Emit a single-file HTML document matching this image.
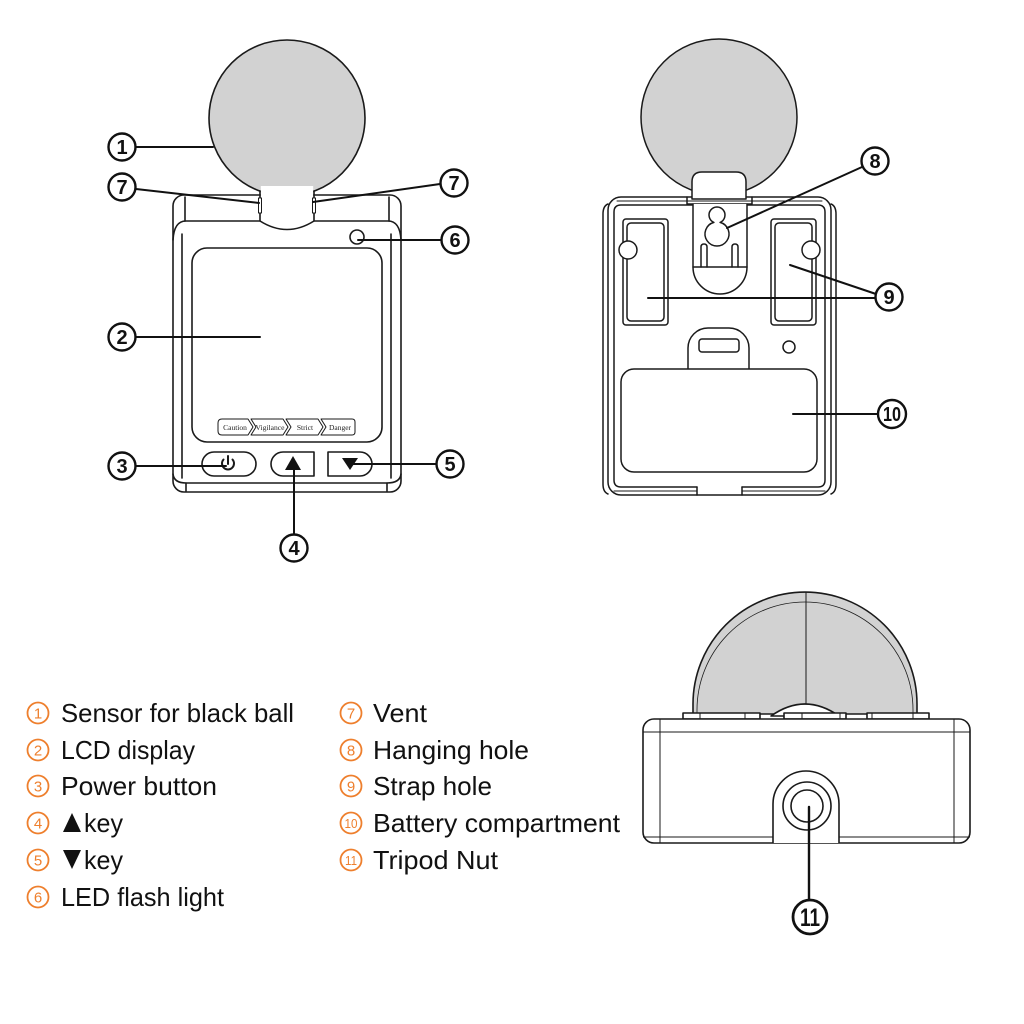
<!DOCTYPE html>
<html><head><meta charset="utf-8"><style>
html,body{margin:0;padding:0;background:#fff;}
svg{display:block}
</style></head><body>
<svg width="1024" height="1024" viewBox="0 0 1024 1024" xmlns="http://www.w3.org/2000/svg">
<rect width="1024" height="1024" fill="#fff"/>

<!-- ================= FRONT DEVICE ================= -->
<g fill="none" stroke="#1a1a1a" stroke-width="1.6" stroke-linejoin="round" stroke-linecap="round">
  <rect x="173" y="195" width="228" height="297" rx="11" fill="#fff"/>
  <circle cx="287" cy="118" r="78" fill="#d2d2d2"/>
  <rect x="260.8" y="186" width="52.4" height="35" fill="#fff" stroke="none"/>
  <path d="M260,191 L260,221 Q287,238 314,221 L314,191"/>
  <!-- vents -->
  <rect x="258.5" y="198" width="3" height="15" fill="#fff" stroke-width="1"/>
  <rect x="312.5" y="198" width="3" height="15" fill="#fff" stroke-width="1"/>
  <!-- ledge -->
  <path d="M173,240 Q174,221 186,221 L260,221"/>
  <path d="M314,221 L388,221 Q400,221 401,240"/>
  <path d="M185,197 L185,221 M389,197 L389,221"/>
  <path d="M182,234 L182,478 M391,234 L391,478"/>
  <path d="M173,474 Q174,483 186,483 L387,483 Q400,483 401,474"/>
  <path d="M186,483 L186,491 M387,483 L387,491"/>
  <!-- LCD -->
  <rect x="192" y="248" width="190" height="194" rx="15" fill="#fff"/>
  <!-- chevrons -->
  <g stroke-width="1">
    <path d="M222,419 L248,419 L253,427 L248,435 L222,435 Q218,435 218,431 L218,423 Q218,419 222,419 Z"/>
    <path d="M251,419 L283,419 L288,427 L283,435 L251,435 L256,427 Z"/>
    <path d="M286,419 L318,419 L323,427 L318,435 L286,435 L291,427 Z"/>
    <path d="M321,419 L352,419 Q355,419 355,422 L355,432 Q355,435 352,435 L321,435 L326,427 Z"/>
  </g>
  <!-- LED -->
  <circle cx="357" cy="237" r="7" fill="#fff"/>
  <!-- buttons -->
  <rect x="202" y="452" width="54" height="24" rx="12" fill="#fff"/>
  <path d="M283,452 L314,452 L314,476 L283,476 A12,12 0 0 1 283,452 Z" fill="#fff"/>
  <path d="M328,452 L360,452 A12,12 0 0 1 360,476 L328,476 Z" fill="#fff"/>
  <!-- power icon -->
  <path d="M223.5,459.5 A6,6 0 1 0 232.5,459.5" stroke-width="2"/>
  <path d="M228,456 L228,464" stroke-width="2"/>
</g>
<g font-family="'Liberation Serif', serif" font-size="7.5" fill="#222" text-anchor="middle">
  <text x="235" y="430">Caution</text>
  <text x="270" y="430" textLength="29" lengthAdjust="spacingAndGlyphs">Vigilance</text>
  <text x="305" y="430">Strict</text>
  <text x="340" y="430">Danger</text>
</g>
<polygon points="293,456 285,470 301,470" fill="#111"/>
<polygon points="342,458 358,458 350,470" fill="#111"/>

<!-- ================= BACK DEVICE ================= -->
<g fill="none" stroke="#1a1a1a" stroke-width="1.5" stroke-linejoin="round" stroke-linecap="round">
  <path d="M603,214 Q603,206 608,204 M603,214 L603,484 Q603,492 608,494"/>
  <path d="M836,214 Q836,206 831,204 M836,214 L836,484 Q836,492 831,494"/>
  <rect x="608" y="197" width="223" height="298" rx="13" fill="#fff"/>
  <path d="M617,201 L822,201" stroke-width="1"/>
  <path d="M697,487 L621,487 Q614,487 614,480 L614,212 Q614,205 621,205 L818,205 Q825,205 825,212 L825,480 Q825,487 818,487 L742,487"/>
  <path d="M697,487 L697,495 M742,487 L742,495"/>
  <path d="M614,491 L697,491 M742,491 L825,491" stroke-width="1"/>
  <circle cx="719" cy="117" r="78" fill="#d2d2d2"/>
  <path d="M692,199 L692,182 Q692,172 702,172 L736,172 Q746,172 746,182 L746,199 Z" fill="#fff"/>
  <path d="M687,197 L687,204 L752,204 L752,197"/>
  <path d="M693,204 L693,267 A27,27 0 0 0 747,267 L747,204" fill="#fff"/>
  <path d="M693,267 L747,267"/>
  <path d="M701,267 L701,247 Q701,244 704,244 Q707,244 707,247 L707,267"/>
  <path d="M732,267 L732,247 Q732,244 735,244 Q738,244 738,247 L738,267"/>
  <!-- keyhole -->
  <path d="M713.9,222.4 A8,8 0 1 1 720.1,222.4 A12,12 0 1 1 713.9,222.4 Z" fill="#fff"/>
  <!-- strap holes -->
  <rect x="623" y="219" width="45" height="106" rx="3" fill="#fff"/>
  <rect x="627" y="223" width="37" height="98" rx="4"/>
  <circle cx="628" cy="250" r="9" fill="#fff"/>
  <rect x="771" y="219" width="45" height="106" rx="3" fill="#fff"/>
  <rect x="775" y="223" width="37" height="98" rx="4"/>
  <circle cx="811" cy="250" r="9" fill="#fff"/>
  <!-- battery -->
  <path d="M688,370 L688,348 A20,20 0 0 1 708,328 L729,328 A20,20 0 0 1 749,348 L749,370" fill="#fff"/>
  <rect x="699" y="339" width="40" height="13" rx="3"/>
  <circle cx="789" cy="347" r="6"/>
  <rect x="621" y="369" width="196" height="103" rx="13" fill="#fff"/>
</g>

<!-- ================= SIDE VIEW ================= -->
<g fill="none" stroke="#1a1a1a" stroke-width="1.6" stroke-linejoin="round">
  <path d="M693,714 L693,704 A112,112 0 0 1 917,704 L917,714 Z" fill="#d2d2d2"/>
  <path d="M697,714 L697,710 A108,108 0 0 1 913,710 L913,714" stroke-width="0.8"/>
  <path d="M806,592 L806,706" stroke-width="1"/>
  <path d="M771,716 Q805,692 839,716 Z" fill="#fff"/>
  <rect x="683" y="713" width="77" height="6" fill="#fff"/>
  <rect x="784" y="713" width="62" height="6" fill="#fff"/>
  <rect x="867" y="713" width="62" height="6" fill="#fff"/>
  <path d="M700,713 L700,719 M745,713 L745,719 M802,713 L802,719 M840,713 L840,719 M872,713 L872,719 M913,713 L913,719" stroke-width="1"/>
  <rect x="643" y="719" width="327" height="124" rx="11" fill="#fff"/>
  <path d="M643,732 L970,732 M643,837 L970,837 M660,719 L660,843 M954,719 L954,843" stroke-width="1"/>
  <path d="M773,843 L773,804 A33,33 0 0 1 839,804 L839,843" fill="#fff"/>
  <circle cx="807" cy="806" r="24"/>
  <circle cx="807" cy="806" r="16"/>
</g>

<!-- ================= LEADERS ================= -->
<g stroke="#111" stroke-width="2" fill="none" stroke-linecap="round">
  <path d="M136,147 L213,147"/>
  <path d="M136,337 L260,337"/>
  <path d="M136,466 L226,466"/>
  <path d="M294,534 L294,463"/>
  <path d="M436,464 L352,464"/>
  <path d="M441,240 L358,240"/>
  <path d="M136,189 L259,203"/>
  <path d="M440,184 L313,202"/>
  <path d="M862,167 L727,228"/>
  <path d="M876,298 L648,298"/>
  <path d="M876,294 L790,265"/>
  <path d="M878,414 L793,414"/>
  <path d="M809,900 L809,807" stroke-width="2.4"/>
</g>

<!-- ================= CALLOUT NUMBERS ================= -->
<g fill="#fff" stroke="#111" stroke-width="2.4">
  <circle cx="122" cy="147" r="13.5"/>
  <circle cx="122" cy="187" r="13.5"/>
  <circle cx="454" cy="183" r="13.5"/>
  <circle cx="455" cy="240" r="13.5"/>
  <circle cx="122" cy="337" r="13.5"/>
  <circle cx="122" cy="466" r="13.5"/>
  <circle cx="294" cy="548" r="13.5"/>
  <circle cx="450" cy="464" r="13.5"/>
  <circle cx="875" cy="161" r="13.5"/>
  <circle cx="889" cy="297" r="13.5"/>
  <circle cx="892" cy="414" r="14"/>
  <circle cx="810" cy="917" r="17" stroke-width="2.8"/>
</g>
<g font-family="'Liberation Sans', sans-serif" font-weight="bold" font-size="20" fill="#111" text-anchor="middle">
  <text x="122" y="154">1</text>
  <text x="122" y="194">7</text>
  <text x="454" y="190">7</text>
  <text x="455" y="247">6</text>
  <text x="122" y="344">2</text>
  <text x="122" y="473">3</text>
  <text x="294" y="555">4</text>
  <text x="450" y="471">5</text>
  <text x="875" y="168">8</text>
  <text x="889" y="304">9</text>
  <text x="892" y="421" textLength="18" lengthAdjust="spacingAndGlyphs">10</text>
  <text x="810" y="926" font-size="25" textLength="20" lengthAdjust="spacingAndGlyphs">11</text>
</g>

<!-- ================= LEGEND ================= -->
<g fill="none" stroke="#ee7f2d" stroke-width="1.8">
  <circle cx="38" cy="713" r="10.5"/>
  <circle cx="38" cy="750" r="10.5"/>
  <circle cx="38" cy="786" r="10.5"/>
  <circle cx="38" cy="823" r="10.5"/>
  <circle cx="38" cy="860" r="10.5"/>
  <circle cx="38" cy="897" r="10.5"/>
  <circle cx="351" cy="713" r="10.5"/>
  <circle cx="351" cy="750" r="10.5"/>
  <circle cx="351" cy="786" r="10.5"/>
  <circle cx="351" cy="823" r="10.5"/>
  <circle cx="351" cy="860" r="10.5"/>
</g>
<g font-family="'Liberation Sans', sans-serif" font-size="15" fill="#ee7f2d" text-anchor="middle">
  <text x="38" y="718.5">1</text>
  <text x="38" y="755.5">2</text>
  <text x="38" y="791.5">3</text>
  <text x="38" y="828.5">4</text>
  <text x="38" y="865.5">5</text>
  <text x="38" y="902.5">6</text>
  <text x="351" y="718.5">7</text>
  <text x="351" y="755.5">8</text>
  <text x="351" y="791.5">9</text>
  <text x="351" y="828" font-size="13" textLength="13" lengthAdjust="spacingAndGlyphs">10</text>
  <text x="351" y="865" font-size="13" textLength="12" lengthAdjust="spacingAndGlyphs">11</text>
</g>
<polygon points="72,813 63,832 81,832" fill="#111"/>
<polygon points="63,850 81,850 72,869" fill="#111"/>
<g font-family="'Liberation Sans', sans-serif" font-size="26" fill="#111">
  <text x="61" y="722" textLength="233" lengthAdjust="spacingAndGlyphs">Sensor for black ball</text>
  <text x="61" y="759" textLength="134" lengthAdjust="spacingAndGlyphs">LCD display</text>
  <text x="61" y="795" textLength="156" lengthAdjust="spacingAndGlyphs">Power button</text>
  <text x="84" y="832" textLength="39" lengthAdjust="spacingAndGlyphs">key</text>
  <text x="84" y="869" textLength="39" lengthAdjust="spacingAndGlyphs">key</text>
  <text x="61" y="906" textLength="163" lengthAdjust="spacingAndGlyphs">LED flash light</text>
  <text x="373" y="722" textLength="54" lengthAdjust="spacingAndGlyphs">Vent</text>
  <text x="373" y="759" textLength="156" lengthAdjust="spacingAndGlyphs">Hanging hole</text>
  <text x="373" y="795" textLength="119" lengthAdjust="spacingAndGlyphs">Strap hole</text>
  <text x="373" y="832" textLength="247" lengthAdjust="spacingAndGlyphs">Battery compartment</text>
  <text x="373" y="869" textLength="125" lengthAdjust="spacingAndGlyphs">Tripod Nut</text>
</g>
</svg>
</body></html>
